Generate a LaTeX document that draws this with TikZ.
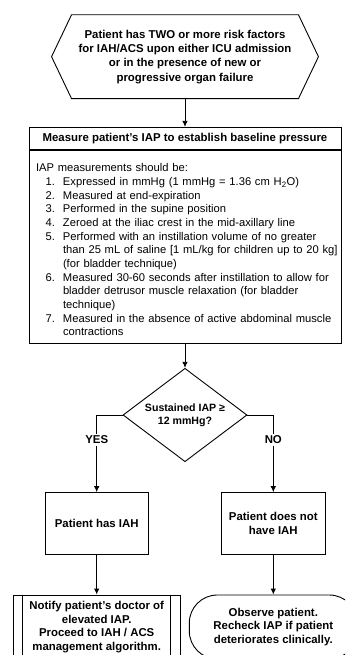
\documentclass[tikz,border=0pt]{standalone}
\usepackage{fontspec}
\setmainfont{Liberation Sans}
\usetikzlibrary{positioning,shapes.geometric,arrows.meta}

\newcommand{\itemline}[2]{\mbox{\makebox[19pt][r]{#1}\hspace{8pt}#2}}
\newcommand{\moreline}[1]{\mbox{\hspace{27pt}#1}}

\begin{document}
\begin{tikzpicture}[x=1pt, y=-1pt, >={Latex[length=6pt,width=5.5pt]}, line width=0.9pt,
    flowtext/.style={font=\fontsize{11.4}{13.4}\selectfont\bfseries, align=center, inner sep=0pt},
    flowbox/.style={flowtext, draw},
    answer/.style={flowtext, fill=white, inner ysep=2pt}]
    \useasboundingbox (0,0) rectangle (345,655);
    \clip (0,0) rectangle (345,655);

    % Start: risk factors
    \node[flowtext, font=\fontsize{11.4}{14.4}\selectfont\bfseries, minimum width=226pt, minimum height=83pt] (risk) at (185,56.7)
        {Patient has TWO or more risk factors\\for IAH/ACS upon either ICU admission\\or in the presence of new or\\progressive organ failure};
    \draw (risk.north west) -- (risk.north east) -- ([xshift=20pt]risk.east)
        -- (risk.south east) -- (risk.south west) -- ([xshift=-20pt]risk.west) -- cycle;

    % Measurement box
    \node[flowbox, minimum width=312pt, minimum height=22pt] (measure) at (185,138.3)
        {Measure patient's IAP to establish baseline pressure};
    \node[draw, below=0pt of measure, text width=298pt, inner xsep=7pt, inner ysep=0pt,
        minimum height=193.4pt, align=left, font=\fontsize{11.2}{13.65}\selectfont] (rules)
        {\rule{0pt}{14pt}\mbox{IAP measurements should be:}\\
         \itemline{1.}{Expressed in mmHg (1 mmHg = 1.36 cm H\textsubscript{2}O)}\\
         \itemline{2.}{Measured at end-expiration}\\
         \itemline{3.}{Performed in the supine position}\\
         \itemline{4.}{Zeroed at the iliac crest in the mid-axillary line}\\
         \itemline{5.}{Performed with an instillation volume of no greater}\\
         \moreline{than 25 mL of saline [1 mL/kg for children up to 20 kg]}\\
         \moreline{(for bladder technique)}\\
         \itemline{6.}{Measured 30-60 seconds after instillation to allow for}\\
         \moreline{bladder detrusor muscle relaxation (for bladder}\\
         \moreline{technique)}\\
         \itemline{7.}{Measured in the absence of active abdominal muscle}\\
         \moreline{contractions}};

    % Decision
    \node[flowbox, shape=diamond, aspect=1.33, minimum width=124pt, minimum height=93.4pt,
        font=\fontsize{10.6}{13.4}\selectfont\bfseries] (sustained) at (185,415)
        {Sustained IAP ≥\\12 mmHg?};

    % Outcomes
    \node[flowbox, minimum width=103.3pt, minimum height=61.3pt] (has) at (96.7,523.3) {Patient has IAH};
    \node[flowbox, minimum width=103.3pt, minimum height=61.3pt] (nothave) at (273.3,523.3) {Patient does not\\have IAH};
    \node[flowbox, minimum width=166.8pt, minimum height=64pt] (notify) at (96.7,627)
        {Notify patient's doctor of\\elevated IAP.\\Proceed to IAH / ACS\\management algorithm.};
    \draw ([xshift=10pt]notify.north west) -- ([xshift=10pt]notify.south west);
    \draw ([xshift=-10pt]notify.north east) -- ([xshift=-10pt]notify.south east);
    \node[flowbox, rounded corners=28pt, minimum width=168pt, minimum height=64pt] (observe) at (273.3,627)
        {Observe patient.\\Recheck IAP if patient\\deteriorates clinically.};

    % Connectors
    \draw[->] (risk) -- (measure);
    \draw[->] (rules) -- (sustained);
    \draw[->] (sustained) -| (has) node[answer, pos=0.66] {YES};
    \draw[->] (sustained) -| (nothave) node[answer, pos=0.66] {NO};
    \draw[->] (has) -- (notify);
    \draw[->] (nothave) -- (observe);
\end{tikzpicture}
\end{document}
